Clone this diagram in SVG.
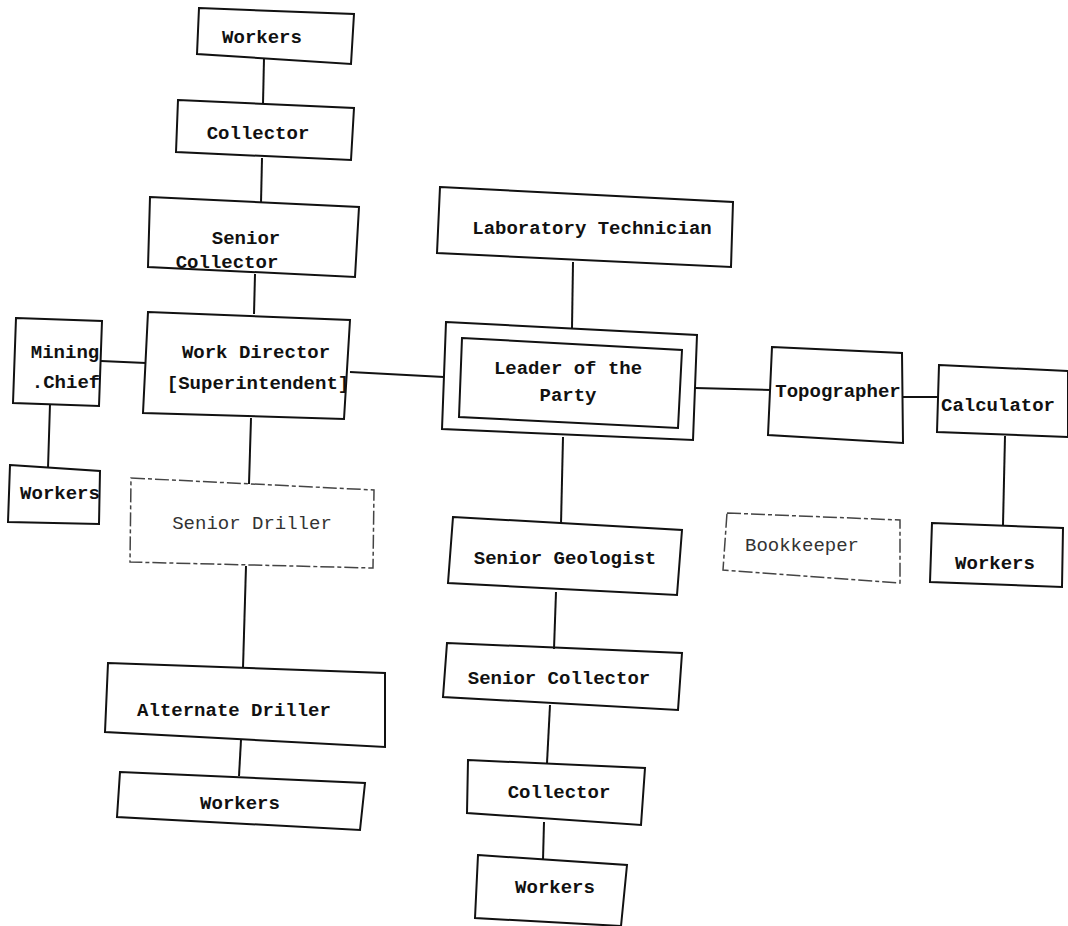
<svg xmlns="http://www.w3.org/2000/svg" width="1068" height="926" viewBox="0 0 1068 926">
<style>
.box{fill:none;stroke:#111;stroke-width:2;stroke-linejoin:miter}
.lite{fill:none;stroke:#444;stroke-width:1.5;stroke-dasharray:14 3 4 3}
.con{stroke:#111;stroke-width:2;fill:none}
text{font-family:"Liberation Mono","DejaVu Sans Mono",monospace;font-size:19px;font-weight:bold;fill:#111;text-anchor:middle}
text.lt{font-weight:normal;fill:#333}
</style>
<rect width="1068" height="926" fill="#fff"/>
<g id="connectors">
<line class="con" x1="264" y1="58" x2="263" y2="104"/>
<line class="con" x1="262" y1="158" x2="261" y2="203"/>
<line class="con" x1="255" y1="274" x2="254" y2="314"/>
<line class="con" x1="101" y1="361" x2="146" y2="363"/>
<line class="con" x1="50" y1="404" x2="48" y2="468"/>
<line class="con" x1="350" y1="372" x2="444" y2="377"/>
<line class="con" x1="251" y1="418" x2="249" y2="484"/>
<line class="con" x1="246" y1="566" x2="243" y2="668"/>
<line class="con" x1="241" y1="740" x2="239" y2="776"/>
<line class="con" x1="573" y1="262" x2="572" y2="328"/>
<line class="con" x1="563" y1="437" x2="561" y2="524"/>
<line class="con" x1="556" y1="592" x2="554" y2="649"/>
<line class="con" x1="550" y1="705" x2="547" y2="763"/>
<line class="con" x1="544" y1="822" x2="543" y2="860"/>
<line class="con" x1="695" y1="388" x2="771" y2="390"/>
<line class="con" x1="902" y1="397" x2="939" y2="397"/>
<line class="con" x1="1005" y1="436" x2="1003" y2="525"/>
</g>
<g id="workers-top"><polygon class="box" points="199,8 354,14 351,64 197,54"/><text x="262" y="43">Workers</text></g>
<g id="collector-top"><polygon class="box" points="178,100 354,108 351,160 176,152"/><text x="258" y="139">Collector</text></g>
<g id="senior-collector-left"><polygon class="box" points="150,197 359,207 355,277 148,267"/><text x="246" y="244">Senior</text><text x="227" y="268">Collector</text></g>
<g id="mining-chief"><polygon class="box" points="16,318 102,321 99,406 13,403"/><text x="65" y="358">Mining</text><text x="66" y="388">.Chief</text></g>
<g id="work-director"><polygon class="box" points="148,312 350,320 344,419 143,413"/><text x="256" y="358">Work Director</text><text x="258" y="389">[Superintendent]</text></g>
<g id="workers-left"><polygon class="box" points="10,465 100,471 99,524 8,522"/><text x="60" y="499">Workers</text></g>
<g id="senior-driller"><polygon class="lite" points="131,478 374,490 373,568 130,562"/><text class="lt" x="252" y="529">Senior Driller</text></g>
<g id="alternate-driller"><polygon class="box" points="108,663 385,673 385,747 105,732"/><text x="234" y="716">Alternate Driller</text></g>
<g id="workers-bottom-left"><polygon class="box" points="120,772 365,783 360,830 117,817"/><text x="240" y="809">Workers</text></g>
<g id="laboratory-technician"><polygon class="box" points="440,187 733,202 731,267 437,253"/><text x="592" y="234">Laboratory Technician</text></g>
<g id="leader-of-the-party"><polygon class="box" points="446,322 697,335 693,440 442,429"/><polygon class="box" points="462,338 682,350 678,428 459,417"/><text x="568" y="374">Leader of the</text><text x="568" y="401">Party</text></g>
<g id="senior-geologist"><polygon class="box" points="453,517 682,530 677,595 448,583"/><text x="565" y="564">Senior Geologist</text></g>
<g id="senior-collector-right"><polygon class="box" points="447,643 682,653 678,710 443,697"/><text x="559" y="684">Senior Collector</text></g>
<g id="collector-right"><polygon class="box" points="468,760 645,768 641,825 467,813"/><text x="559" y="798">Collector</text></g>
<g id="workers-bottom-right"><polygon class="box" points="478,855 627,865 621,926 475,918"/><text x="555" y="893">Workers</text></g>
<g id="topographer"><polygon class="box" points="772,347 902,353 903,443 768,435"/><text x="838" y="397">Topographer</text></g>
<g id="calculator"><polygon class="box" points="939,365 1068,371 1068,437 937,432"/><text x="998" y="411">Calculator</text></g>
<g id="bookkeeper"><polygon class="lite" points="727,513 900,520 900,583 723,570"/><text class="lt" x="802" y="551">Bookkeeper</text></g>
<g id="workers-right"><polygon class="box" points="932,523 1063,528 1062,587 930,582"/><text x="995" y="569">Workers</text></g>
</svg>
